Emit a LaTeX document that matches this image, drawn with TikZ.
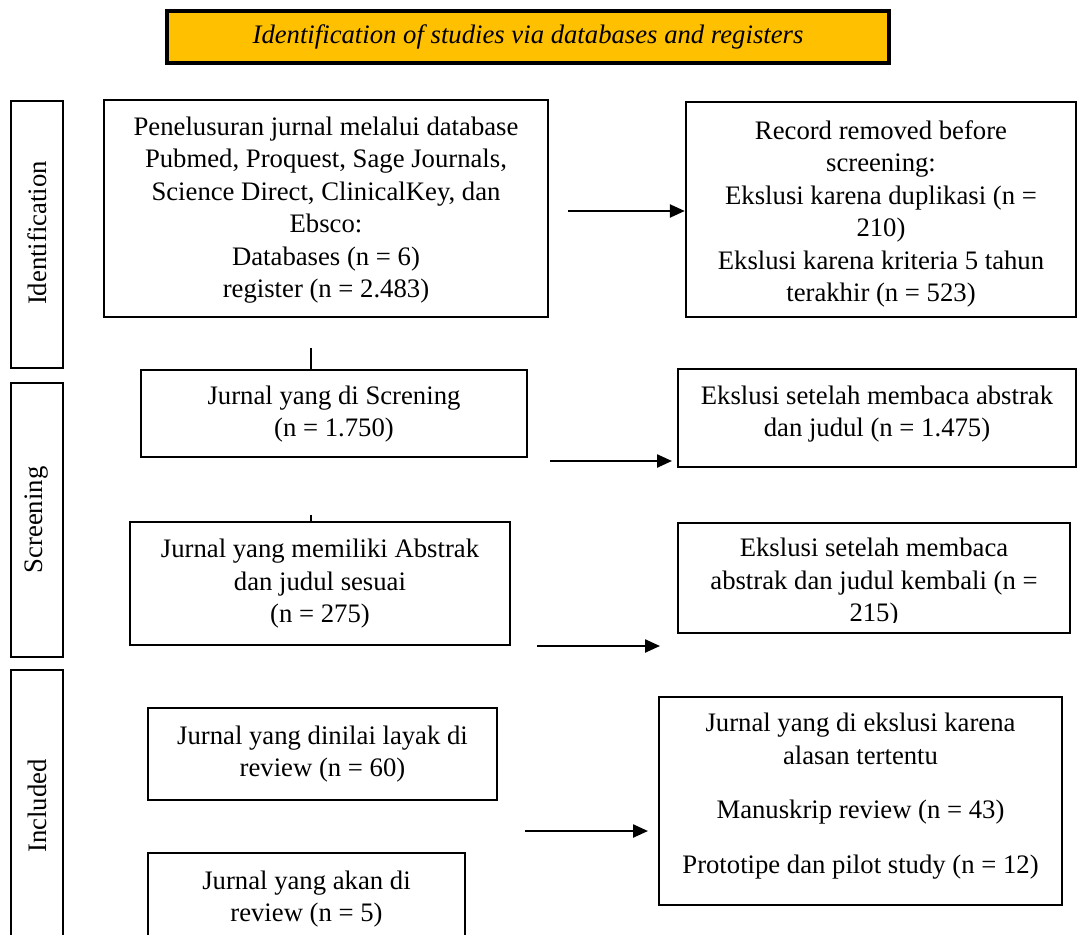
\documentclass[tikz,border=0pt]{standalone}
\usepackage{fontspec}
\setmainfont{Liberation Serif}
\usetikzlibrary{arrows.meta}
\newcommand\bodyfs{\fontsize{26.7}{32.5}\selectfont}
\begin{document}
\begin{tikzpicture}[x=1pt,y=-1pt,
  box/.style={draw=black,line width=2.4pt,inner sep=0pt},
  side/.style={draw=black,line width=1.8pt,inner sep=0pt,minimum width=52pt},
  txt/.style={align=center,inner sep=0pt,font=\bodyfs},
  sidetxt/.style={inner sep=0pt,font=\bodyfs,rotate=90},
  arr/.style={line width=2.4pt,-{Triangle[length=15pt,width=13pt]}},
  tick/.style={line width=2pt}]
\useasboundingbox (0,0) rectangle (1078,934);
% title
\node[draw=black,line width=3.5pt,fill={rgb,255:red,255;green,192;blue,0},minimum width=722pt,minimum height=52pt,inner sep=0pt,font=\fontsize{26.7}{30}\selectfont\itshape] (title) at (528,37) {Identification of studies via databases and registers};
% side bars
\node[side,minimum height=267pt] (sid) at (37,234.5) {};
\node[sidetxt] (sidt) at (37,233) {Identification};
\node[side,minimum height=274pt] (ssc) at (37,520) {};
\node[sidetxt] (ssct) at (37,520) {Screening};
\node[side,minimum height=290pt] (sin) at (37,815) {};
\node[sidetxt] (sint) at (37,806) {Included};
% boxes
\node[box,minimum width=444pt,minimum height=217pt] (b1) at (326,208.5) {};
\node[txt] (t1) at (326,210) {Penelusuran jurnal melalui database\\Pubmed, Proquest, Sage Journals,\\Science Direct, ClinicalKey, dan\\Ebsco:\\Databases (n = 6)\\register (n = 2.483)};
\node[box,minimum width=390pt,minimum height=215pt] (b2) at (881,209.5) {};
\node[txt] (t2) at (881,214) {Record removed before\\screening:\\Ekslusi karena duplikasi (n =\\210)\\Ekslusi karena kriteria 5 tahun\\terakhir (n = 523)};
\node[box,minimum width=386pt,minimum height=87pt] (b3) at (334,413.5) {};
\node[txt] (t3) at (334,414) {Jurnal yang di Screning\\(n = 1.750)};
\node[box,minimum width=398pt,minimum height=98pt] (b4) at (877,418) {};
\node[txt] (t4) at (877,414) {Ekslusi setelah membaca abstrak\\dan judul (n = 1.475)};
\node[box,minimum width=380pt,minimum height=123pt] (b5) at (320,583.5) {};
\node[txt] (t5) at (320,584) {Jurnal yang memiliki Abstrak\\dan judul sesuai\\(n = 275)};
\node[box,minimum width=392pt,minimum height=110pt] (b6) at (874,578) {};
\begin{scope}
\clip (678,523) rectangle (1070,622);
\node[txt] (t6) at (874,583) {Ekslusi setelah membaca\\abstrak dan judul kembali (n =\\215)};
\end{scope}
\node[box,minimum width=349pt,minimum height=92pt] (b7) at (322.5,754) {};
\node[txt] (t7) at (322.5,754) {Jurnal yang dinilai layak di\\review (n = 60)};
\node[box,minimum width=317pt,minimum height=107pt] (b8) at (306.5,906.5) {};
\node[txt] (t8) at (306.5,899) {Jurnal yang akan di\\review (n = 5)};
\node[box,minimum width=403pt,minimum height=208pt] (b9) at (860.5,801) {};
\node[txt] (t9) at (860.5,796) {Jurnal yang di ekslusi karena\\alasan tertentu\\[22pt]Manuskrip review (n = 43)\\[22pt]Prototipe dan pilot study (n = 12)};
% connectors
\coordinate (a1s) at (568,211);
\draw[arr] (a1s) -- (a1s -| b2.west);
\coordinate (a2s) at (550,461);
\coordinate (a2e) at (672,461);
\draw[arr] (a2s) -- (a2e);
\coordinate (a3s) at (537,646);
\coordinate (a3e) at (660,646);
\draw[arr] (a3s) -- (a3e);
\coordinate (a4s) at (525,831);
\coordinate (a4e) at (648,831);
\draw[arr] (a4s) -- (a4e);
\coordinate (v1) at (311,348);
\draw[tick] (v1) -- (v1 |- b3.north);
\coordinate (v2) at (311,515);
\draw[tick] (v2) -- (v2 |- b5.north);
\end{tikzpicture}
\end{document}
